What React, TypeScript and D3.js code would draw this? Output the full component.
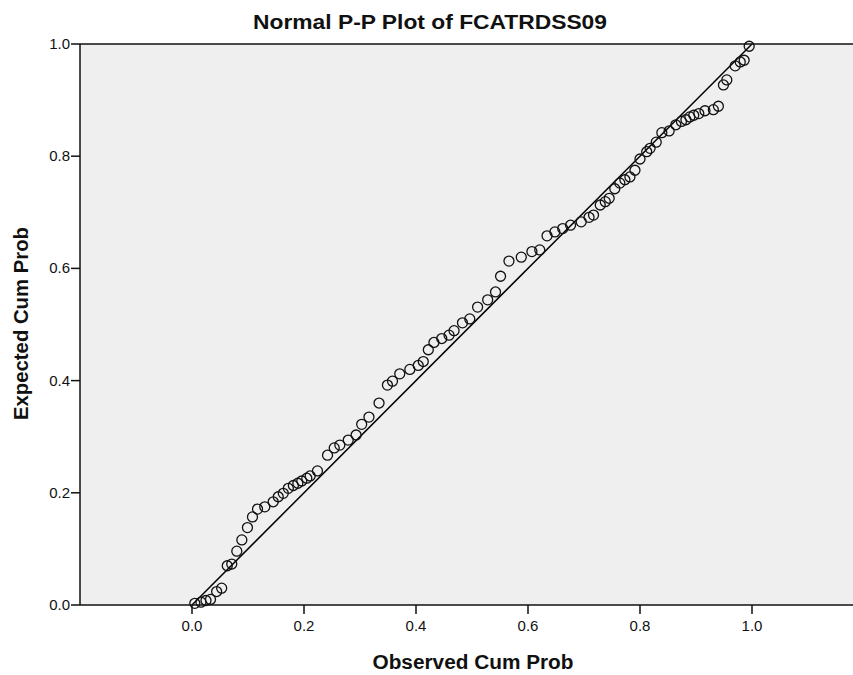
import React from "react";
import * as d3 from "d3";

const observed = [0.005,0.016,0.025,0.033,0.044,0.053,0.063,0.071,0.080,0.089,0.099,0.108,0.117,0.130,0.145,0.154,0.163,0.172,0.181,0.189,0.196,0.205,0.211,0.224,0.242,0.254,0.264,0.279,0.293,0.303,0.316,0.334,0.349,0.358,0.371,0.389,0.404,0.413,0.422,0.432,0.446,0.459,0.468,0.483,0.496,0.510,0.528,0.542,0.551,0.566,0.588,0.607,0.621,0.634,0.648,0.662,0.676,0.695,0.709,0.717,0.729,0.738,0.745,0.755,0.764,0.773,0.782,0.791,0.800,0.812,0.818,0.829,0.839,0.852,0.864,0.874,0.882,0.889,0.896,0.905,0.916,0.931,0.940,0.949,0.955,0.970,0.979,0.986,0.995];
const expected = [0.003,0.005,0.008,0.010,0.024,0.030,0.070,0.073,0.096,0.116,0.138,0.157,0.171,0.175,0.184,0.193,0.199,0.208,0.213,0.217,0.221,0.226,0.230,0.239,0.267,0.280,0.285,0.294,0.303,0.322,0.335,0.360,0.392,0.399,0.412,0.420,0.427,0.434,0.455,0.468,0.475,0.481,0.489,0.503,0.510,0.531,0.544,0.558,0.586,0.613,0.620,0.630,0.633,0.658,0.665,0.671,0.677,0.683,0.691,0.695,0.713,0.719,0.725,0.742,0.752,0.758,0.763,0.775,0.795,0.808,0.814,0.825,0.842,0.845,0.856,0.862,0.865,0.870,0.873,0.876,0.881,0.883,0.889,0.927,0.936,0.961,0.968,0.971,0.996];
const tickValues = [0.0, 0.2, 0.4, 0.6, 0.8, 1.0];
const refLine = [0, 1];
const title = "Normal P-P Plot of FCATRDSS09";
const xTitle = "Observed Cum Prob";
const yTitle = "Expected Cum Prob";

const W = 853, H = 675;
const left = 80, top = 44, bottom = 605, right = 864;

export default function App() {
  const x = d3.scaleLinear().domain([-0.2, 1.2]).range([left, right]);
  const y = d3.scaleLinear().domain([0, 1]).range([bottom, top]);
  const fmt = d3.format(".1f");
  const font = "Arial, 'Liberation Sans', sans-serif";
  const line = d3.line<number>().x((d) => x(d)).y((d) => y(d));
  return (
    <svg width={W} height={H} style={{ position: "absolute", left: 0, top: 0, display: "block" }} fontFamily={font}>
      <rect x={0} y={0} width={W} height={H} fill="#ffffff" />
      <rect x={left} y={top} width={right - left} height={bottom - top} fill="#efefef" />
      <path d={line(refLine) || ""} stroke="#000" strokeWidth={1.5} fill="none" />
      {observed.map((o, i) => (
        <circle key={i} cx={x(o)} cy={y(expected[i])} r={5} fill="none" stroke="#111" strokeWidth={1.3} />
      ))}
      <line x1={left} x2={W} y1={top} y2={top} stroke="#111" strokeWidth={1.5} />
      <line x1={left} x2={W} y1={bottom} y2={bottom} stroke="#111" strokeWidth={1.5} />
      <line x1={left} x2={left} y1={top} y2={bottom} stroke="#111" strokeWidth={1.5} />
      {tickValues.map((t) => (
        <g key={"x" + t}>
          <line x1={x(t)} x2={x(t)} y1={bottom} y2={bottom + 9} stroke="#111" strokeWidth={1.5} />
          <text x={x(t)} y={631} fontSize={15} textAnchor="middle" fill="#111">{fmt(t)}</text>
        </g>
      ))}
      {tickValues.map((t) => (
        <g key={"y" + t}>
          <line x1={left - 9} x2={left} y1={y(t)} y2={y(t)} stroke="#111" strokeWidth={1.5} />
          <text x={left - 10} y={y(t) + 5} fontSize={15} textAnchor="end" fill="#111">{fmt(t)}</text>
        </g>
      ))}
      <text x={430} y={29} fontSize={20} fontWeight="bold" textAnchor="middle" fill="#111" textLength={354} lengthAdjust="spacingAndGlyphs">{title}</text>
      <text x={473} y={669} fontSize={20} fontWeight="bold" textAnchor="middle" fill="#111" textLength={201} lengthAdjust="spacingAndGlyphs">{xTitle}</text>
      <text transform={`translate(28,323.5) rotate(-90)`} fontSize={20} fontWeight="bold" textAnchor="middle" fill="#111" textLength={193} lengthAdjust="spacingAndGlyphs">{yTitle}</text>
    </svg>
  );
}
